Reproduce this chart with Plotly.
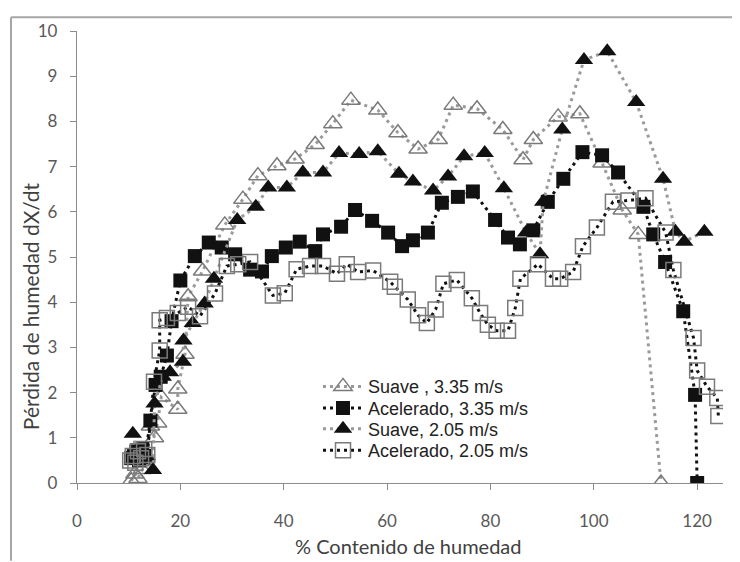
import plotly.graph_objects as go

# Suave, 3.35 m/s (open triangles)
suave335_x = [10.5, 11.2, 11.8, 12.6, 13.4, 14.2, 15.0, 15.6, 16.3, 19.5, 19.5, 20.9, 21.5, 24.3,
              28.6, 32.1, 35.0, 38.7, 42.2, 46.1, 49.5, 53.0, 58.2, 62.1, 66.0, 69.9, 72.8,
              77.4, 82.4, 86.3, 88.3, 93.1, 97.3, 101.6, 105.5, 108.6, 113.0]
suave335_y = [0.05, 0.2, 0.1, 0.3, 0.6, 1.26, 1.0, 1.33, 1.9, 1.63, 2.08, 2.85, 4.12, 4.69,
              5.71, 6.28, 6.8, 7.02, 7.17, 7.49, 7.95, 8.47, 8.25, 7.75, 7.39, 7.6, 8.36,
              8.28, 7.82, 7.15, 7.6, 8.1, 8.17, 7.08, 6.04, 5.5, 0.0]

# Acelerado, 3.35 m/s (filled squares)
acel335_x = [10.5, 11.0, 11.5, 12.0, 12.6, 13.2, 14.2, 15.2, 16.2, 17.4, 18.3, 20.0, 22.8, 25.5,
             28.0, 30.6, 33.5, 35.8, 37.7, 40.4, 43.1, 46.1, 47.6, 51.1, 53.8, 57.1, 60.2,
             62.9, 65.0, 67.9, 70.6, 73.7, 76.6, 80.9, 83.4, 85.7, 88.3, 91.1, 94.1, 97.8,
             101.6, 104.7, 109.6, 111.5, 113.8, 117.3, 119.6, 120.0]
acel335_y = [0.55, 0.62, 0.7, 0.5, 0.75, 0.6, 1.38, 2.17, 2.35, 2.82, 3.58, 4.48, 5.02, 5.32,
             5.21, 5.06, 4.72, 4.68, 5.02, 5.21, 5.34, 5.13, 5.5, 5.67, 6.04, 5.8, 5.54,
             5.24, 5.37, 5.54, 6.2, 6.33, 6.45, 5.82, 5.43, 5.28, 5.59, 6.22, 6.73, 7.32,
             7.25, 6.87, 6.11, 5.5, 4.89, 3.8, 1.95, 0.0]

# Suave, 2.05 m/s (filled triangles)
suave205_x = [10.8, 11.5, 12.5, 13.3, 14.7, 15.0, 16.6, 18.0, 20.5, 20.6, 22.4, 24.7, 26.5,
              31.0, 34.6, 37.0, 40.6, 43.7, 47.6, 50.7, 54.6, 58.2, 62.3, 65.0, 68.9, 71.8,
              74.9, 78.9, 82.6, 86.9, 89.6, 90.2, 93.9, 98.1, 102.6, 108.2, 113.4, 115.8,
              117.5, 121.4]
suave205_y = [1.09, 0.7, 0.5, 0.6, 0.29, 1.76, 2.35, 2.45, 2.68, 3.15, 3.54, 3.97, 4.52,
              5.82, 6.11, 6.54, 6.54, 6.87, 6.87, 7.3, 7.28, 7.34, 6.84, 6.67, 6.47, 6.78,
              7.23, 7.3, 6.52, 5.54, 5.06, 6.22, 7.82, 9.36, 9.55, 8.43, 6.73, 5.56,
              5.34, 5.56]

# Acelerado, 2.05 m/s (open squares)
acel205_x = [10.3, 10.8, 11.3, 11.8, 12.4, 13.0, 13.6, 14.9, 16.0, 16.0, 17.4, 19.5, 21.5,
             23.8, 26.7, 29.0, 31.2, 33.5, 37.9, 40.2, 42.5, 45.1, 47.6, 50.3, 52.2, 54.4,
             57.3, 60.6, 61.5, 64.0, 66.0, 67.7, 69.4, 70.9, 73.5, 76.4, 78.0, 79.5, 81.2,
             83.4, 84.8, 85.8, 89.2, 92.1, 93.5, 96.0, 97.9, 100.6, 103.7, 106.7, 110.0,
             113.9, 115.4, 119.3, 120.0, 121.9, 123.9, 124.1]
acel205_y = [0.5, 0.6, 0.45, 0.7, 0.55, 0.75, 0.62, 2.24, 2.93, 3.6, 3.65, 3.76, 3.9,
             3.69, 4.19, 4.8, 4.84, 4.89, 4.15, 4.2, 4.73, 4.8, 4.8, 4.63, 4.84, 4.67,
             4.7, 4.45, 4.34, 4.06, 3.71, 3.54, 3.84, 4.41, 4.49, 4.09, 3.76, 3.5, 3.37,
             3.37, 3.87, 4.52, 4.84, 4.52, 4.52, 4.67, 5.24, 5.65, 6.22, 6.25, 6.3,
             5.54, 4.71, 3.21, 2.49, 2.13, 1.88, 1.48]

series_names = ["Suave , 3.35 m/s", "Acelerado, 3.35 m/s", "Suave, 2.05 m/s", "Acelerado, 2.05 m/s"]
x_ticks = [0, 20, 40, 60, 80, 100, 120]
y_ticks = [0, 1, 2, 3, 4, 5, 6, 7, 8, 9, 10]

GRAY_LINE = "#9a9a9a"
DOT = "3px,4px"

# page body margin offset (pixels) so that picture coordinates line up
OFF = 8
W, H = 732, 554
L, R, T, B = 69, 17, 15, 79
pw, ph = W - L - R, H - T - B


def px_x(px):
    return (px - OFF - L) / pw


def px_y(py):
    return (H - B - (py - OFF)) / ph


legend_rows = [385, 407, 428, 450]
legend_keys = ["legend", "legend2", "legend3", "legend4"]

fig = go.Figure()
fig.add_trace(go.Scatter(
    x=suave335_x, y=suave335_y, name=series_names[0], mode="lines+markers", legend=legend_keys[0],
    line=dict(color=GRAY_LINE, width=3, dash=DOT),
    marker=dict(symbol="triangle-up-open", size=16, color="#7a7a7a", line=dict(width=1.5, color="#7a7a7a"))))
fig.add_trace(go.Scatter(
    x=acel335_x, y=acel335_y, name=series_names[1], mode="lines+markers", legend=legend_keys[1],
    line=dict(color="#111111", width=3, dash=DOT),
    marker=dict(symbol="square", size=14, color="#111111")))
fig.add_trace(go.Scatter(
    x=suave205_x, y=suave205_y, name=series_names[2], mode="lines+markers", legend=legend_keys[2],
    line=dict(color=GRAY_LINE, width=3, dash=DOT),
    marker=dict(symbol="triangle-up", size=16, color="#111111")))
fig.add_trace(go.Scatter(
    x=acel205_x, y=acel205_y, name=series_names[3], mode="lines+markers", legend=legend_keys[3],
    line=dict(color="#111111", width=3, dash=DOT),
    marker=dict(symbol="square-open", size=15, color="#7a7a7a", line=dict(width=1.5, color="#7a7a7a"))))

axis_common = dict(showgrid=False, zeroline=False, showline=True, linecolor="#8c8c8c", linewidth=1.3,
                   ticks="outside", ticklen=6, tickcolor="#8c8c8c", tickwidth=1.3,
                   tickfont=dict(family="Lato", size=17, color="#595959"))

legend_style = dict(xanchor="left", yanchor="middle", bgcolor="rgba(0,0,0,0)",
                    font=dict(family="Liberation Sans", size=18, color="#222222"), itemwidth=40)
legend_layout = {}
for key, row in zip(legend_keys, legend_rows):
    legend_layout[key] = dict(x=px_x(318), y=px_y(row), **legend_style)

fig.update_layout(
    width=W, height=H,
    margin=dict(l=L, r=R, t=T, b=B),
    plot_bgcolor="white", paper_bgcolor="white",
    xaxis=dict(range=[0, 125], tickvals=x_ticks, ticklabelstandoff=16, **axis_common),
    yaxis=dict(range=[0, 10], tickvals=y_ticks, ticklabelstandoff=9, **axis_common),
    showlegend=True,
    annotations=[
        dict(text="Pérdida de humedad dX/dt", textangle=-90, xref="paper", yref="paper",
             x=px_x(30), y=px_y(303), xanchor="center", yanchor="middle", showarrow=False,
             font=dict(family="Lato", size=21, color="#404040")),
        dict(text="% Contenido de humedad", xref="paper", yref="paper",
             x=px_x(408), y=px_y(547), xanchor="center", yanchor="middle", showarrow=False,
             font=dict(family="Lato", size=20, color="#404040")),
    ],
    shapes=[
        dict(type="line", xref="paper", yref="paper", x0=px_x(11), x1=px_x(740), y0=px_y(9), y1=px_y(9),
             line=dict(color="#a6a6a6", width=2)),
        dict(type="line", xref="paper", yref="paper", x0=px_x(11), x1=px_x(11), y0=px_y(9), y1=px_y(562),
             line=dict(color="#a6a6a6", width=2)),
    ],
    **legend_layout,
)

fig.write_html("out.html")
